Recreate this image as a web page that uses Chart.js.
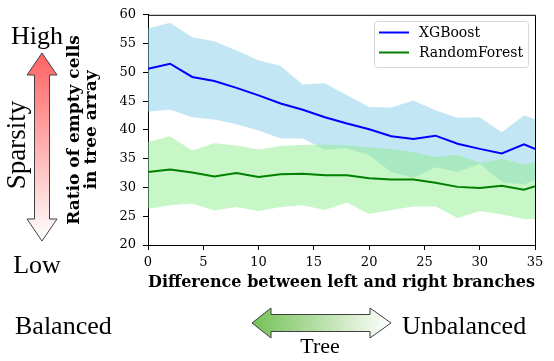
<!DOCTYPE html>
<html>
<head>
<meta charset="utf-8">
<script src="https://cdn.jsdelivr.net/npm/chart.js@4/dist/chart.umd.min.js"></script>
<style>
html,body{margin:0;padding:0;background:#fff;}
#wrap{width:554px;height:361px;position:relative;}
</style>
</head>
<body>
<div id="wrap"><canvas id="c" width="554" height="361"></canvas></div>
<script>
// ---- data ----
const xValues = [0,2,4,6,8,10,12,14,16,18,20,22,24,26,28,30,32,34,36];
const xgbMean  = [50.6,51.5,49.2,48.5,47.3,46.0,44.6,43.5,42.2,41.1,40.1,38.9,38.4,39.0,37.6,36.7,35.9,37.5,35.9];
const xgbUpper = [57.6,58.6,56.1,55.4,53.8,52.1,51.1,47.9,48.1,46.0,44.0,43.9,45.1,43.4,42.1,42.2,39.6,42.5,41.3];
const xgbLower = [43.2,43.5,42.2,41.8,41.0,39.9,38.5,38.5,36.6,36.8,35.6,32.7,31.7,33.5,32.7,34.1,30.9,30.5,31.9];
const rfMean   = [32.7,33.1,32.6,31.9,32.5,31.8,32.3,32.4,32.1,32.1,31.6,31.4,31.4,30.8,30.1,29.9,30.3,29.6,30.8];
const rfUpper  = [37.9,38.9,36.4,37.7,37.3,36.6,37.2,37.4,37.4,37.3,37.0,36.7,36.1,35.3,35.7,34.3,35.0,34.0,34.8];
const rfLower  = [26.3,26.9,27.2,26.0,26.6,25.9,26.6,26.9,26.1,27.4,25.4,26.1,26.7,26.7,24.7,25.9,25.3,24.5,24.5];
const seriesNames = ['XGBoost','RandomForest'];
const xTicks = [0,5,10,15,20,25,30,35];
const yTicks = [20,25,30,35,40,45,50,55,60];
const yTitle = ['Ratio of empty cells','in tree array'];
const xTitle = 'Difference between left and right branches';

const pts = arr => arr.map((v,i)=>({x:xValues[i], y:v}));
const serif = "'DejaVu Serif', serif";
const times = "'Liberation Serif', 'Times New Roman', serif";

const frameAndAnnotations = {
  id:'frameAndAnnotations',
  afterDraw(chart){
    const ctx = chart.ctx, a = chart.chartArea;
    ctx.save();
    // top/right spines
    ctx.strokeStyle='#000'; ctx.lineWidth=1;
    ctx.beginPath();
    ctx.moveTo(a.left, a.top+0.5); ctx.lineTo(a.right+0.5, a.top+0.5); ctx.lineTo(a.right+0.5, a.bottom);
    ctx.stroke();

    // legend
    const lx=374.5, ly=21.5, lw=154, lh=46, r=3;
    ctx.beginPath();
    ctx.moveTo(lx+r,ly); ctx.lineTo(lx+lw-r,ly); ctx.quadraticCurveTo(lx+lw,ly,lx+lw,ly+r);
    ctx.lineTo(lx+lw,ly+lh-r); ctx.quadraticCurveTo(lx+lw,ly+lh,lx+lw-r,ly+lh);
    ctx.lineTo(lx+r,ly+lh); ctx.quadraticCurveTo(lx,ly+lh,lx,ly+lh-r);
    ctx.lineTo(lx,ly+r); ctx.quadraticCurveTo(lx,ly,lx+r,ly);
    ctx.fillStyle='rgba(255,255,255,0.8)'; ctx.fill();
    ctx.strokeStyle='#d6d6d6'; ctx.stroke();
    const legendColors = ['#0000ff','#008000'];
    const rows=[32.5,52.5];
    ctx.font = "14px "+serif; ctx.textBaseline='middle'; ctx.textAlign='left';
    for(let i=0;i<2;i++){
      ctx.strokeStyle=legendColors[i]; ctx.lineWidth=2;
      ctx.beginPath(); ctx.moveTo(379,rows[i]); ctx.lineTo(409,rows[i]); ctx.stroke();
      ctx.fillStyle='#000'; ctx.fillText(seriesNames[i], 419, rows[i]+1);
    }

    // vertical sparsity arrow
    const cx=42, tt=53, tb=75, bb=219, bt=241, hw=15, sw=7.5;
    const vg = ctx.createLinearGradient(0,tt,0,bt);
    vg.addColorStop(0,'#ff6262'); vg.addColorStop(1,'#ffffff');
    ctx.beginPath();
    ctx.moveTo(cx,tt); ctx.lineTo(cx+hw,tb); ctx.lineTo(cx+sw,tb); ctx.lineTo(cx+sw,bb);
    ctx.lineTo(cx+hw,bb); ctx.lineTo(cx,bt); ctx.lineTo(cx-hw,bb); ctx.lineTo(cx-sw,bb);
    ctx.lineTo(cx-sw,tb); ctx.lineTo(cx-hw,tb); ctx.closePath();
    ctx.fillStyle=vg; ctx.fill(); ctx.strokeStyle='#404040'; ctx.lineWidth=1; ctx.stroke();

    // horizontal tree arrow
    const cy=323, lt=252, lb=271, rb=370, rt=391, hh=15, sh=8.5;
    const hg = ctx.createLinearGradient(lt,0,rt,0);
    hg.addColorStop(0,'#74c157'); hg.addColorStop(1,'#ffffff');
    ctx.beginPath();
    ctx.moveTo(lt,cy); ctx.lineTo(lb,cy-hh); ctx.lineTo(lb,cy-sh); ctx.lineTo(rb,cy-sh);
    ctx.lineTo(rb,cy-hh); ctx.lineTo(rt,cy); ctx.lineTo(rb,cy+hh); ctx.lineTo(rb,cy+sh);
    ctx.lineTo(lb,cy+sh); ctx.lineTo(lb,cy+hh); ctx.closePath();
    ctx.fillStyle=hg; ctx.fill(); ctx.strokeStyle='#404040'; ctx.stroke();

    // annotation texts
    ctx.fillStyle='#000'; ctx.textBaseline='alphabetic';
    ctx.font = "26px "+times;
    ctx.textAlign='center';
    ctx.fillText('High', 37, 44);
    ctx.fillText('Low', 37, 273);
    ctx.textAlign='left';
    ctx.fillText('Balanced', 15, 334);
    ctx.fillText('Unbalanced', 402, 334);
    ctx.font = "22px "+times; ctx.textAlign='center';
    ctx.fillText('Tree', 320, 353);
    ctx.save();
    ctx.translate(25,145); ctx.rotate(-Math.PI/2);
    ctx.font = "27px "+times; ctx.textAlign='center';
    ctx.fillText('Sparsity', 0, 0);
    ctx.restore();
    ctx.restore();
  }
};

new Chart(document.getElementById('c'), {
  type:'line',
  data:{
    datasets:[
      {label:seriesNames[0], data:pts(xgbMean), borderColor:'#0000ff', borderWidth:2, pointRadius:0, fill:false, tension:0},
      {label:seriesNames[1], data:pts(rfMean), borderColor:'#008000', borderWidth:2, pointRadius:0, fill:false, tension:0},
      {label:'rfUpper', data:pts(rfUpper), borderWidth:0, borderColor:'rgba(0,0,0,0)', pointRadius:0, fill:'+1', backgroundColor:'rgba(144,238,144,0.5)', tension:0},
      {label:'rfLower', data:pts(rfLower), borderWidth:0, borderColor:'rgba(0,0,0,0)', pointRadius:0, fill:false, tension:0},
      {label:'xgbUpper', data:pts(xgbUpper), borderWidth:0, borderColor:'rgba(0,0,0,0)', pointRadius:0, fill:'+1', backgroundColor:'rgba(135,206,235,0.5)', tension:0},
      {label:'xgbLower', data:pts(xgbLower), borderWidth:0, borderColor:'rgba(0,0,0,0)', pointRadius:0, fill:false, tension:0}
    ]
  },
  options:{
    responsive:false, animation:false, devicePixelRatio:1,
    layout:{padding:{left:60, right:19, top:14.5, bottom:0}},
    plugins:{legend:{display:false}, tooltip:{enabled:false}},
    scales:{
      x:{
        type:'linear', min:0, max:35,
        afterBuildTicks(s){ s.ticks = xTicks.map(v=>({value:v})); },
        afterFit(s){ s.height = 116; },
        grid:{drawOnChartArea:false, drawTicks:true, tickLength:5, color:'#000', tickColor:'#000'},
        border:{display:true, color:'#000', width:1},
        ticks:{color:'#000', font:{family:serif, size:13}, padding:5, maxRotation:0},
        title:{display:true, text:xTitle, color:'#000', font:{family:serif, size:17, weight:'bold', lineHeight:1.0}, padding:{top:0,bottom:69.5}}
      },
      y:{
        type:'linear', min:20, max:60,
        afterBuildTicks(s){ s.ticks = yTicks.map(v=>({value:v})); },
        afterFit(s){ s.width = 88; },
        grid:{drawOnChartArea:false, drawTicks:true, tickLength:5, color:'#000', tickColor:'#000'},
        border:{display:true, color:'#000', width:1},
        ticks:{color:'#000', font:{family:serif, size:13}, padding:7},
        title:{display:true, text:yTitle, color:'#000', font:{family:serif, size:17, weight:'bold', lineHeight:1.0}, padding:{top:6.5,bottom:0}}
      }
    }
  },
  plugins:[frameAndAnnotations]
});
</script>
</body>
</html>
